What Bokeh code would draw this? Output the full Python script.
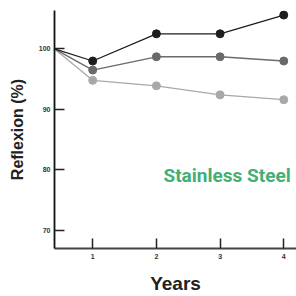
from bokeh.plotting import figure
from bokeh.models import Range1d, Label, FixedTicker
from bokeh.embed import file_html
from bokeh.resources import INLINE

years = [0.4, 1, 2, 3, 4]
series_black = [100, 98.0, 102.5, 102.5, 105.6]
series_dark = [100, 96.5, 98.7, 98.7, 98.0]
series_light = [100, 94.8, 93.9, 92.4, 91.6]
x_ticks = [1, 2, 3, 4]
y_ticks = [70, 80, 90, 100]

p = figure(width=296, height=296, output_backend="svg", toolbar_location=None,
           x_range=Range1d(0.4, 4.2), y_range=Range1d(67.0, 106.35),
           min_border_left=54, min_border_right=0, min_border_top=10, min_border_bottom=38)
p.outline_line_color = None
p.grid.visible = False
p.background_fill_color = "white"
p.border_fill_color = "white"

for ys, col in [(series_light, "#a8a8a8"), (series_dark, "#6a6a6a"), (series_black, "#1e1e1e")]:
    p.line(years, ys, line_color=col, line_width=1.3)
    p.scatter(years[1:], ys[1:], size=8, fill_color=col, line_color=col)

p.xaxis.ticker = FixedTicker(ticks=x_ticks)
p.yaxis.ticker = FixedTicker(ticks=y_ticks)
for ax in (p.xaxis[0], p.yaxis[0]):
    ax.major_tick_in = 10
    ax.major_tick_out = 0
    ax.minor_tick_in = 0
    ax.minor_tick_out = 0
    ax.major_tick_line_color = "#222222"
    ax.major_tick_line_width = 1.5
    ax.axis_line_width = 1.8
    ax.major_label_text_font = "Liberation Sans"
    ax.major_label_text_font_size = "7px"
    ax.major_label_text_font_style = "bold"
    ax.major_label_text_color = "#333333"
    ax.axis_label_text_font = "Liberation Sans"
    ax.axis_label_text_font_style = "bold"
    ax.axis_label_text_color = "#222222"

p.xaxis.axis_line_color = "#444444"
p.yaxis.axis_line_color = "#111111"
p.xaxis.major_label_standoff = 5
p.yaxis.major_label_standoff = 4
p.xaxis.axis_label = "Years"
p.xaxis.axis_label_text_font_size = "19px"
p.xaxis.axis_label_standoff = 11
p.yaxis.axis_label = "Reflexion (%)"
p.yaxis.axis_label_text_font_size = "16px"
p.yaxis.axis_label_standoff = 10

p.add_layout(Label(x=3.11, y=79.0, text="Stainless Steel",
                   text_font="Roboto", text_font_size="19px", text_font_style="bold",
                   text_color="#45ae74", text_align="center", text_baseline="middle"))

open("out.html", "w").write(file_html(p, INLINE))
